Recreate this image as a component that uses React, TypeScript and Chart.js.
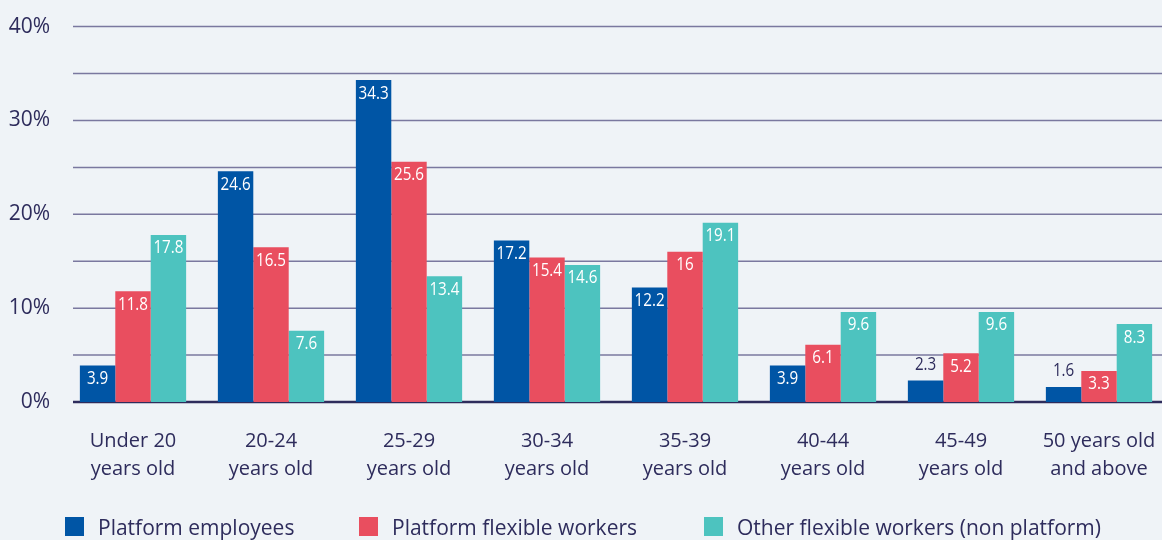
import React, { useEffect, useRef } from 'react';
import { Chart, registerables } from 'chart.js';

Chart.register(...registerables);

const categories: string[][] = [
  ['Under 20', 'years old'],
  ['20-24', 'years old'],
  ['25-29', 'years old'],
  ['30-34', 'years old'],
  ['35-39', 'years old'],
  ['40-44', 'years old'],
  ['45-49', 'years old'],
  ['50 years old', 'and above'],
];
const seriesNames = ['Platform employees', 'Platform flexible workers', 'Other flexible workers (non platform)'];
const platformEmployees = [3.9, 24.6, 34.3, 17.2, 12.2, 3.9, 2.3, 1.6];
const platformFlexible = [11.8, 16.5, 25.6, 15.4, 16, 6.1, 5.2, 3.3];
const otherFlexible = [17.8, 7.6, 13.4, 14.6, 19.1, 9.6, 9.6, 8.3];
const yTicks = [0, 5, 10, 15, 20, 25, 30, 35, 40];

const COLORS = ['#0055a5', '#e94e5f', '#4dc3bf'];
const TEXT = '#2e2c5c';
const GRID = '#7a789f';
const BG = '#eff3f7';
const FONT = '"Open Sans", sans-serif';

const gridPlugin = {
  id: 'customGrid',
  beforeDatasetsDraw(chart: any) {
    const { ctx, chartArea, scales } = chart;
    const y = scales.y;
    ctx.save();
    yTicks.forEach((v) => {
      const py = y.getPixelForValue(v);
      ctx.beginPath();
      ctx.strokeStyle = v === 0 ? TEXT : GRID;
      ctx.lineWidth = v === 0 ? 2.5 : 1.5;
      ctx.moveTo(73, py);
      ctx.lineTo(chartArea.right, py);
      ctx.stroke();
    });
    ctx.restore();
  },
};

const labelPlugin = {
  id: 'barLabels',
  afterDatasetsDraw(chart: any) {
    const { ctx } = chart;
    chart.data.datasets.forEach((ds: any, di: number) => {
      const meta = chart.getDatasetMeta(di);
      meta.data.forEach((bar: any, i: number) => {
        const v = ds.data[i];
        const text = String(v);
        const inside = v >= 3;
        ctx.save();
        ctx.font = `19px ${FONT}`;
        ctx.textAlign = 'center';
        ctx.textBaseline = 'middle';
        ctx.fillStyle = inside ? '#ffffff' : TEXT;
        ctx.translate(bar.x, inside ? bar.y + 13 : bar.y - 16);
        ctx.scale(0.8, 1);
        ctx.fillText(text, 0, 0);
        ctx.restore();
      });
    });
  },
};

const legendPlugin = {
  id: 'customLegend',
  afterDraw(chart: any) {
    const { ctx } = chart;
    const xs = [65, 359, 704];
    const cy = 526.5;
    ctx.save();
    ctx.font = `21px ${FONT}`;
    ctx.textBaseline = 'middle';
    ctx.textAlign = 'left';
    chart.data.datasets.forEach((ds: any, i: number) => {
      ctx.fillStyle = ds.backgroundColor;
      ctx.fillRect(xs[i], cy - 9.5, 19, 19);
      ctx.fillStyle = TEXT;
      ctx.fillText(ds.label, xs[i] + 33, cy + 2.5);
    });
    ctx.restore();
  },
};

export default function App() {
  const ref = useRef<HTMLCanvasElement>(null);
  useEffect(() => {
    document.body.style.margin = '0';
    const chart = new Chart(ref.current!, {
      type: 'bar',
      data: {
        labels: categories as any,
        datasets: [
          { label: seriesNames[0], data: platformEmployees, backgroundColor: COLORS[0] },
          { label: seriesNames[1], data: platformFlexible, backgroundColor: COLORS[1] },
          { label: seriesNames[2], data: otherFlexible, backgroundColor: COLORS[2] },
        ],
      },
      options: {
        animation: false,
        responsive: false,
        maintainAspectRatio: false,
        layout: { padding: { top: 24, right: 0, left: 0, bottom: 0 } },
        datasets: { bar: { barPercentage: 1, categoryPercentage: 0.77 } },
        plugins: { legend: { display: false }, tooltip: { enabled: false } },
        scales: {
          x: {
            grid: { display: false, drawTicks: false },
            border: { display: false },
            ticks: {
              color: TEXT,
              font: { family: FONT, size: 20, lineHeight: 1.4 },
              padding: 25,
              maxRotation: 0,
              autoSkip: false,
            },
            afterFit(scale: any) {
              scale.height = 138;
              scale.paddingLeft = 0;
              scale.paddingRight = 0;
            },
          },
          y: {
            min: 0,
            max: 40,
            grid: { display: false, drawTicks: false },
            border: { display: false },
            ticks: {
              stepSize: 5,
              color: TEXT,
              font: { family: FONT, size: 21 },
              padding: 14,
              callback: (v: any) => (Number(v) % 10 === 0 ? `${v}%` : ''),
            },
            afterFit(scale: any) {
              scale.width = 64;
            },
          },
        },
      },
      plugins: [gridPlugin, labelPlugin, legendPlugin],
    });
    return () => chart.destroy();
  }, []);
  return (
    <div style={{ width: 1162, height: 540, background: BG, overflow: 'hidden' }}>
      <canvas ref={ref} width={1168} height={540} style={{ display: 'block' }} />
    </div>
  );
}
